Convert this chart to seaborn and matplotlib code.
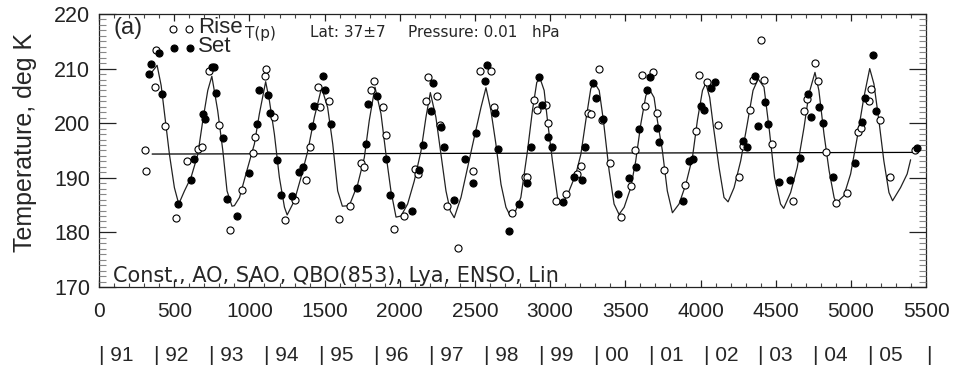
import matplotlib
matplotlib.use("Agg")
import matplotlib.pyplot as plt
import seaborn as sns
from matplotlib.ticker import MultipleLocator
from matplotlib.transforms import blended_transform_factory

# ---------------- data ----------------
rise_day = [307, 313, 371, 382, 440, 513, 586, 661, 683, 734, 800, 872, 948,
            1022, 1038, 1104, 1113, 1166, 1235, 1306, 1377, 1403, 1454, 1470,
            1530, 1594, 1667, 1744, 1760, 1809, 1826, 1886, 1910, 1959, 2025,
            2100, 2121, 2174, 2185, 2245, 2269, 2313, 2389, 2484, 2533, 2606,
            2628, 2745, 2832, 2849, 2894, 2912, 2969, 2987, 3038, 3106, 3181,
            3204, 3252, 3274, 3326, 3348, 3399, 3470, 3540, 3563, 3613, 3631,
            3686, 3708, 3757, 3899, 3972, 3990, 4041, 4116, 4258, 4284, 4329,
            4347, 4400, 4422, 4473, 4617, 4688, 4706, 4761, 4781, 4832, 4902,
            4971, 5046, 5064, 5120, 5135, 5191, 5259, 5423]
rise_temp = [195.1, 191.3, 206.6, 213.4, 199.4, 182.7, 193.0, 195.2, 195.6, 209.6,
             199.7, 180.5, 187.7, 194.6, 197.4, 208.7, 209.9, 201.1, 182.3, 185.9,
             189.6, 195.7, 206.6, 202.9, 204.1, 182.4, 184.9, 192.8, 192.0, 206.0,
             207.7, 203.0, 197.9, 180.6, 183.0, 191.6, 190.7, 204.0, 208.4, 204.9,
             199.7, 184.9, 177.1, 191.3, 209.6, 209.5, 202.9, 183.6, 190.2, 190.2,
             204.3, 202.4, 203.3, 200.0, 185.8, 187.1, 190.7, 192.2, 201.8, 201.7,
             209.9, 200.5, 192.7, 182.9, 188.5, 195.1, 208.8, 203.2, 209.4, 201.9,
             191.4, 188.7, 198.5, 208.9, 207.5, 199.7, 190.2, 195.9, 202.4, 207.9,
             215.3, 207.9, 196.2, 185.8, 202.2, 204.4, 211.1, 207.7, 194.7, 185.4,
             187.3, 198.4, 199.2, 204.1, 206.3, 200.6, 190.1, 195.0]

set_day = [331, 347, 397, 420, 528, 610, 634, 692, 705, 750, 763, 781, 823, 852,
           918, 995, 1051, 1064, 1122, 1137, 1181, 1213, 1281, 1328, 1354, 1414,
           1428, 1487, 1500, 1545, 1716, 1777, 1788, 1848, 1910, 1933, 2006, 2079,
           2127, 2152, 2205, 2220, 2272, 2296, 2363, 2435, 2486, 2508, 2568, 2578,
           2633, 2654, 2728, 2790, 2849, 2872, 2926, 2945, 2987, 3015, 3086, 3159,
           3211, 3231, 3284, 3303, 3354, 3452, 3525, 3569, 3593, 3646, 3662, 3709,
           3722, 3881, 3926, 3952, 4001, 4023, 4068, 4094, 4280, 4311, 4362, 4380,
           4431, 4451, 4524, 4595, 4662, 4717, 4736, 4787, 4812, 4882, 5026, 5077,
           5095, 5146, 5168, 5437]
set_temp = [209.1, 210.9, 212.8, 205.4, 185.2, 189.6, 193.4, 201.7, 200.8, 210.2,
            210.2, 205.6, 197.2, 186.2, 183.0, 190.9, 199.9, 206.1, 205.2, 201.9,
            193.2, 186.8, 186.6, 191.0, 191.9, 199.5, 203.2, 208.7, 206.1, 199.9,
            188.2, 196.2, 203.5, 205.0, 193.5, 186.9, 185.1, 183.9, 191.4, 196.0,
            202.2, 207.4, 199.3, 195.7, 186.0, 193.4, 189.0, 198.2, 207.7, 210.6,
            201.8, 195.3, 180.3, 185.2, 189.0, 195.7, 208.4, 203.4, 197.4, 195.7,
            185.5, 190.2, 189.6, 195.7, 207.3, 204.7, 200.8, 187.0, 189.9, 192.0,
            198.9, 206.1, 208.5, 199.1, 196.6, 185.8, 193.0, 193.4, 203.2, 202.5,
            206.4, 207.5, 196.7, 195.7, 208.6, 199.5, 203.9, 199.9, 189.3, 189.6,
            193.7, 205.4, 201.2, 203.0, 200.1, 190.2, 192.8, 200.2, 204.6, 212.5,
            202.3, 195.4]

fit_day = [336, 386, 413, 468, 501, 530, 568, 612, 657, 690, 723, 750, 789, 823,
           851, 884, 900, 934, 989, 1033, 1066, 1108, 1133, 1166, 1199, 1233, 1251,
           1299, 1343, 1388, 1432, 1480, 1520, 1554, 1587, 1618, 1664, 1720, 1764,
           1797, 1835, 1875, 1908, 1941, 1975, 2008, 2052, 2096, 2141, 2174, 2203,
           2240, 2274, 2307, 2336, 2362, 2407, 2451, 2495, 2540, 2573, 2606, 2639,
           2673, 2706, 2735, 2761, 2805, 2849, 2882, 2911, 2934, 2960, 2982, 3015,
           3049, 3082, 3126, 3171, 3204, 3237, 3270, 3292, 3326, 3354, 3392, 3425,
           3458, 3492, 3536, 3569, 3603, 3636, 3658, 3691, 3713, 3746, 3779, 3813,
           3857, 3902, 3946, 3979, 4013, 4035, 4061, 4083, 4123, 4156, 4183, 4223,
           4267, 4311, 4349, 4383, 4422, 4458, 4492, 4532, 4553, 4599, 4643, 4688,
           4721, 4761, 4787, 4821, 4855, 4888, 4902, 4953, 4998, 5042, 5086, 5125,
           5153, 5186, 5219, 5253, 5277, 5330, 5374, 5397]
fit_temp = [208.8, 210.6, 206.9, 194.3, 188.2, 185.2, 187.6, 190.1, 194.3, 200.5,
            206.0, 208.6, 202.3, 195.0, 187.6, 184.8, 184.9, 186.4, 191.9, 196.2,
            201.7, 207.6, 204.1, 198.0, 190.1, 184.6, 183.2, 185.8, 190.1, 194.9,
            201.1, 206.5, 202.9, 196.2, 187.6, 184.8, 184.9, 188.8, 193.7, 200.5,
            206.6, 201.7, 194.3, 187.6, 182.8, 183.0, 185.2, 189.4, 194.9, 201.1,
            205.6, 201.1, 194.3, 187.6, 183.9, 182.7, 186.4, 191.9, 197.4, 202.9,
            206.5, 202.3, 196.2, 188.8, 184.6, 183.0, 183.3, 186.4, 194.9, 202.3,
            207.5, 208.1, 206.0, 200.5, 193.1, 186.4, 185.2, 187.6, 190.7, 194.3,
            200.5, 206.3, 207.5, 206.0, 200.5, 191.3, 185.2, 183.3, 184.6, 188.2,
            193.1, 199.9, 205.0, 206.3, 204.7, 200.5, 195.0, 187.6, 183.6, 185.2,
            188.8, 193.7, 200.5, 206.0, 207.3, 204.7, 199.9, 191.9, 186.4, 185.6,
            188.2, 193.1, 199.9, 206.0, 208.1, 206.6, 198.6, 190.1, 185.2, 184.4,
            187.3, 191.9, 199.2, 205.4, 209.3, 206.0, 198.0, 191.3, 186.4, 185.4,
            186.7, 190.7, 197.4, 204.7, 210.0, 207.2, 200.5, 193.1, 187.3, 185.8,
            188.2, 190.7, 193.3]

trend_day = [353, 5420]
trend_temp = [194.35, 194.65]

x_ticks = [0, 500, 1000, 1500, 2000, 2500, 3000, 3500, 4000, 4500, 5000, 5500]
y_ticks = [170, 180, 190, 200, 210, 220]
year_labels = ["91", "92", "93", "94", "95", "96", "97", "98", "99", "00",
               "01", "02", "03", "04", "05"]
days_per_year = 365.25

# ---------------- style ----------------
sns.set_theme(style="ticks")
plt.rcParams["font.family"] = ["Liberation Sans", "DejaVu Sans"]
plt.rcParams.update({
    "axes.linewidth": 0.9,
    "axes.axisbelow": False,
    "xtick.direction": "in", "ytick.direction": "in",
    "xtick.top": True, "ytick.right": True,
    "xtick.bottom": True, "ytick.left": True,
    "xtick.minor.visible": True, "ytick.minor.visible": True,
    "xtick.major.size": 5, "xtick.minor.size": 3,
    "ytick.major.size": 12, "ytick.minor.size": 5,
    "xtick.major.width": 0.9, "xtick.minor.width": 0.8,
    "ytick.major.width": 0.9, "ytick.minor.width": 0.8,
    "xtick.color": "#222222", "ytick.color": "#222222",
})

fig = plt.figure(figsize=(9.58, 3.81), dpi=100)
ax = fig.add_axes([0.1034, 0.2467, 0.8633, 0.7166])

sns.lineplot(x=trend_day, y=trend_temp, ax=ax, color="black", lw=0.9, sort=False)
sns.lineplot(x=fit_day, y=fit_temp, ax=ax, color="#222222", lw=0.9, sort=False)
sns.scatterplot(x=rise_day, y=rise_temp, ax=ax, marker="o", s=26,
                color="white", edgecolor="black", linewidth=0.8, zorder=3)
sns.scatterplot(x=set_day, y=set_temp, ax=ax, marker="o", s=26,
                color="black", edgecolor="black", linewidth=0.8, zorder=3)

ax.set_xlim(0, 5500)
ax.set_ylim(170, 220)
ax.set_xticks(x_ticks)
ax.set_yticks(y_ticks)
ax.xaxis.set_minor_locator(MultipleLocator(100))
ax.yaxis.set_minor_locator(MultipleLocator(1))
ax.tick_params(which="both", direction="in", top=True, right=True,
               bottom=True, left=True, labelright=False, labeltop=False)
ax.tick_params(axis="y", which="major", length=12, pad=6.5, labelsize=15.5,
               color="#222222")
ax.tick_params(axis="y", which="minor", length=5, color="#888888")
ax.tick_params(axis="x", which="major", length=5, pad=10.5, labelsize=15,
               color="#222222")
ax.tick_params(axis="x", which="minor", length=3, color="#444444")
ax.set_axisbelow(False)
for sp in ax.spines.values():
    sp.set_color("#222222")
    sp.set_visible(True)

ax.set_xlabel("")
ax.set_ylabel("Temperature, deg K", fontsize=18, va="center")
ax.yaxis.set_label_coords(-0.0895, 0.531)

# ---------------- annotations ----------------
ax.text(0.018, 0.949, "(a)", transform=ax.transAxes, fontsize=17,
        ha="left", va="center")
ax.plot([0.0895, 0.1088], [0.945, 0.945], "o", transform=ax.transAxes,
        mfc="white", mec="black", ms=5, mew=0.8, clip_on=False)
ax.plot([0.0907, 0.1100], [0.875, 0.875], "o", transform=ax.transAxes,
        mfc="black", mec="black", ms=5, mew=0.8, clip_on=False)
ax.text(0.1197, 0.952, "Rise", transform=ax.transAxes, fontsize=16,
        ha="left", va="center")
ax.text(0.1197, 0.882, "Set", transform=ax.transAxes, fontsize=16,
        ha="left", va="center")
ax.text(0.176, 0.93, "T(p)", transform=ax.transAxes, fontsize=11,
        family="DejaVu Sans", ha="left", va="center")
ax.text(0.255, 0.934, "Lat: 37±7", transform=ax.transAxes, fontsize=11,
        family="DejaVu Sans", ha="left", va="center")
ax.text(0.3736, 0.934, "Pressure: 0.01   hPa", transform=ax.transAxes,
        fontsize=11, family="DejaVu Sans", ha="left", va="center")
ax.text(0.017, 0.040, "Const., AO, SAO, QBO(853), Lya, ENSO, Lin",
        transform=ax.transAxes, fontsize=15, family="DejaVu Sans",
        ha="left", va="center")

trans = blended_transform_factory(ax.transData, fig.transFigure)
for i, lab in enumerate(year_labels):
    ax.text(i * days_per_year + 2, 0.068, "| " + lab, transform=trans,
            fontsize=15, ha="left", va="center")
ax.text(len(year_labels) * days_per_year + 20, 0.068, "|", transform=trans,
        fontsize=15, ha="left", va="center")

fig.savefig("out.png", dpi=100)
